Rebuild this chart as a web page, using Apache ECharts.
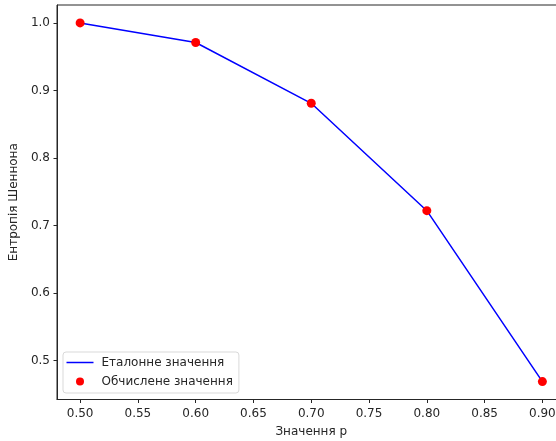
<!DOCTYPE html>
<html lang="uk">
<head>
    <meta charset="UTF-8">
    <title>Ентропія Шеннона</title>
    <script src="https://cdn.jsdelivr.net/npm/echarts@6.0.0/dist/echarts.min.js"></script>
    <style>
        html, body { margin: 0; padding: 0; background: #fff; }
    </style>
</head>
<body>
    <div id="chart" style="width: 556px; height: 441px;"></div>
    <script>
        // значення p та ентропія
        const pValues = [0.5, 0.6, 0.7, 0.8, 0.9];
        const referenceEntropy = [1.0, 0.971, 0.881, 0.722, 0.469];
        const computedEntropy = [1.0, 0.971, 0.881, 0.722, 0.469];
        const xTicks = [0.50, 0.55, 0.60, 0.65, 0.70, 0.75, 0.80, 0.85, 0.90];
        const yTicks = [0.5, 0.6, 0.7, 0.8, 0.9, 1.0];

        const font = 'DejaVu Sans';
        const textColor = '#262626';
        const myChart = echarts.init(document.getElementById('chart'));

        let option = {
            animation: false,
            backgroundColor: '#fff',
            grid: {
                left: 57,
                top: 5,
                right: -9.5,
                bottom: 41.5,
                outerBoundsMode: 'none',
                containLabel: false,
                show: true,
                borderColor: '#262626',
                borderWidth: 1,
                backgroundColor: 'transparent'
            },
            legend: {
                orient: 'vertical',
                left: 63,
                top: 352,
                padding: [3.5, 6, 4.5, 3.5],
                itemWidth: 27,
                itemHeight: 8,
                itemGap: 5,
                backgroundColor: 'rgba(255,255,255,0.8)',
                borderColor: '#d9d9d9',
                borderWidth: 1,
                borderRadius: 3,
                textStyle: { fontFamily: font, fontSize: 12, lineHeight: 14, color: textColor, padding: [0, 0, 0, 3] },
                data: [
                    { name: 'Еталонне значення', icon: 'path://M0,0L27,0L27,1.5L0,1.5Z', itemStyle: { color: '#0000ff' } },
                    { name: 'Обчислене значення', icon: 'circle', itemStyle: { color: '#ff0000' } }
                ]
            },
            xAxis: {
                type: 'value',
                min: 0.48,
                max: 0.92,
                name: 'Значення p',
                nameLocation: 'middle',
                nameGap: 26,
                nameTextStyle: { fontFamily: font, fontSize: 12, color: textColor },
                axisLine: { show: true, onZero: false, lineStyle: { color: '#262626', width: 1 } },
                axisTick: { show: true, length: 3.5, lineStyle: { color: '#262626' }, customValues: xTicks },
                axisLabel: {
                    fontFamily: font, fontSize: 12, color: textColor, margin: 8,
                    customValues: xTicks,
                    formatter: v => v.toFixed(2)
                },
                splitLine: { show: false }
            },
            yAxis: {
                type: 'value',
                min: 0.44245,
                max: 1.02655,
                name: 'Ентропія Шеннона',
                nameLocation: 'middle',
                nameRotate: 90,
                nameGap: 30,
                nameTextStyle: { fontFamily: font, fontSize: 12, color: textColor },
                axisLine: { show: true, onZero: false, lineStyle: { color: '#262626', width: 1 } },
                axisTick: { show: true, length: 3.5, lineStyle: { color: '#262626' }, customValues: yTicks },
                axisLabel: {
                    fontFamily: font, fontSize: 12, color: textColor, margin: 7,
                    customValues: yTicks,
                    formatter: v => v.toFixed(1)
                },
                splitLine: { show: false }
            },
            series: [
                {
                    name: 'Еталонне значення',
                    type: 'line',
                    symbol: 'none',
                    lineStyle: { color: '#0000ff', width: 1.5 },
                    itemStyle: { color: '#0000ff' },
                    data: pValues.map((p, i) => [p, referenceEntropy[i]]),
                    z: 2
                },
                {
                    name: 'Обчислене значення',
                    type: 'scatter',
                    symbol: 'circle',
                    symbolSize: 9,
                    itemStyle: { color: '#ff0000', opacity: 1 },
                    data: pValues.map((p, i) => [p, computedEntropy[i]]),
                    z: 3
                }
            ]
        };

        myChart.setOption(option);
    </script>
</body>
</html>
